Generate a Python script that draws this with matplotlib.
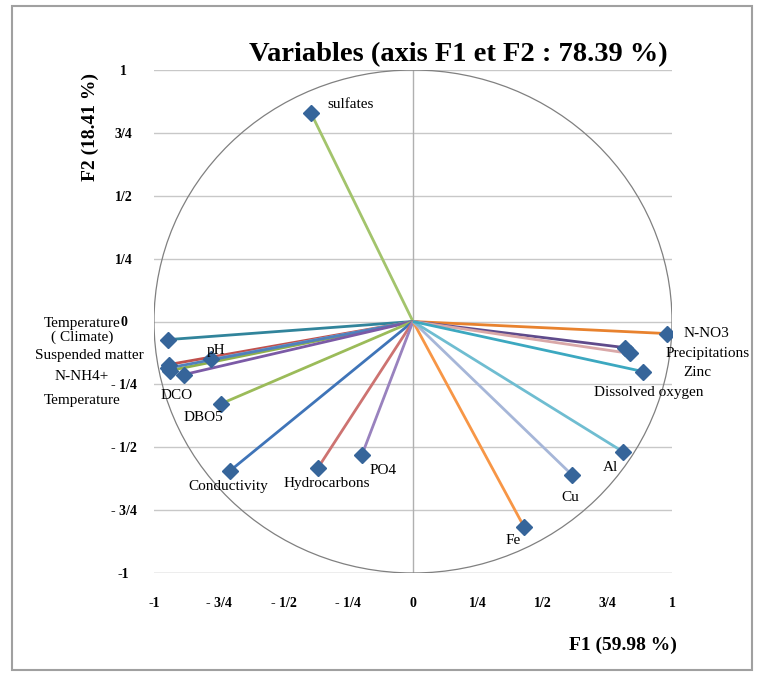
import matplotlib
matplotlib.use("Agg")
import matplotlib.pyplot as plt
from matplotlib.patches import Circle, Rectangle

plt.rcParams['font.family'] = ['Liberation Serif', 'DejaVu Serif']

# variables on the correlation circle (F1, F2)
names = ['sulfates', 'Temperature\n( Climate)', 'Suspended matter', 'pH', 'N-NH4+',
         'Temperature', 'DCO', 'DBO5', 'Conductivity', 'Hydrocarbons', 'PO4',
         'Fe', 'Cu', 'Al', 'N-NO3', 'Precipitations', 'Zinc', 'Dissolved oxygen']
f1 = [-0.394, -0.946, -0.942, -0.780, -0.938, -0.945, -0.884, -0.741, -0.707,
      -0.367, -0.197, 0.429, 0.614, 0.811, 0.981, 0.819, 0.838, 0.888]
f2 = [0.829, -0.072, -0.171, -0.151, -0.195, -0.185, -0.211, -0.327, -0.594,
      -0.582, -0.530, -0.817, -0.610, -0.518, -0.048, -0.104, -0.127, -0.199]
colors = ['#a3c46c', '#31849b', '#c0504d', '#95b3d7', '#8fb04c', '#4f81bd',
          '#7b5aa6', '#9bbb59', '#3f74b8', '#cd7371', '#9982be', '#f79646',
          '#a6b6d8', '#6fbdd1', '#e8822e', '#5f4b8b', '#d9a8a8', '#3ca8c0']
# where each label sits (data coords, centred)
lab_x = [-0.243, -1.278, -1.251, -0.761, -1.280, -1.276, -0.913, -0.811, -0.712,
         -0.332, -0.116, 0.387, 0.607, 0.761, 1.131, 1.137, 1.098, 0.911]
lab_y = [0.861, -0.036, -0.135, -0.116, -0.219, -0.315, -0.295, -0.382, -0.657,
         -0.645, -0.594, -0.872, -0.700, -0.580, -0.048, -0.128, -0.203, -0.283]

ticks = [-1, -0.75, -0.5, -0.25, 0, 0.25, 0.5, 0.75, 1]
xtick_labels = ['-1', '- 3/4', '- 1/2', '- 1/4', '0', '1/4', '1/2', '3/4', '1']
ytick_labels = ['-1', '- 3/4', '- 1/2', '- 1/4', '0', '1/4', '1/2', '3/4', '1']

W, H = 757, 674
fig = plt.figure(figsize=(W / 100, H / 100), dpi=100)
ax = fig.add_axes([154 / W, 1 - 573 / H, (672 - 154) / W, (573 - 70) / H])
ax.set_xlim(-1, 1)
ax.set_ylim(-1, 1)

for s in ax.spines.values():
    s.set_visible(False)
ax.axhline(-1, color='#a6a6a6', lw=1, zorder=1)
for t in ticks[1:]:
    ax.axhline(t, color='#c8c8c8', lw=1, zorder=1)
ax.axvline(0, color='#b0b0b0', lw=1, zorder=1)

ax.add_patch(Circle((0, 0), 1, fill=False, ec='#808080', lw=0.9, zorder=2))

for x, y, c in zip(f1, f2, colors):
    ax.plot([0, x], [0, y], color=c, lw=2.0, zorder=3, solid_capstyle='butt')
ax.plot(f1, f2, ls='none', marker='D', ms=8, color='#36659a', zorder=5)

for n, x, y in zip(names, lab_x, lab_y):
    ax.text(x, y, n, ha='center', va='center', fontsize=11, clip_on=False,
            linespacing=1.1, zorder=6)

ax.set_xticks(ticks)
ax.set_xticklabels(xtick_labels, fontweight='bold', fontsize=10)
ax.set_yticks(ticks)
ax.set_yticklabels(ytick_labels, fontweight='bold', fontsize=10, ha='center')
ax.tick_params(axis='x', length=0, pad=17)
ax.tick_params(axis='y', length=0, pad=22)

fig.text(458 / W, 1 - 55 / H, 'Variables (axis F1 et F2 : 78.39 %)',
         ha='center', va='center', fontsize=20.5, fontweight='bold')
fig.text(623 / W, 1 - 645 / H, 'F1 (59.98 %)', ha='center', va='center',
         fontsize=14, fontweight='bold')
fig.text(90 / W, 1 - 127 / H, 'F2 (18.41 %)', ha='center', va='center',
         fontsize=14, fontweight='bold', rotation=90)

fig.patches.append(Rectangle((12 / W, 1 - 670 / H), (752 - 12) / W, (670 - 6) / H,
                             transform=fig.transFigure, fill=False,
                             ec='#a0a0a0', lw=1.5))

fig.savefig('out.png', dpi=100)
